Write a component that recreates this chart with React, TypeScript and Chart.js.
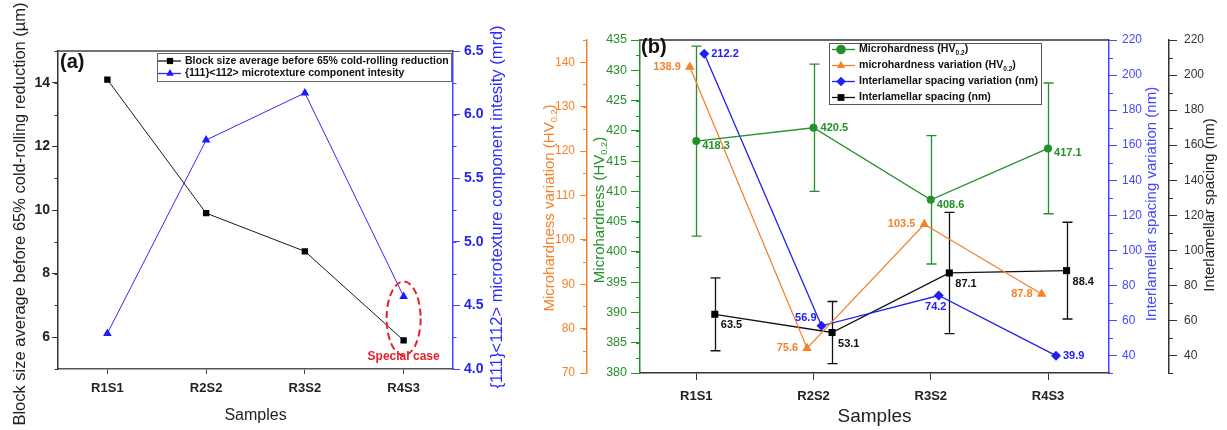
import React, { useEffect, useRef } from 'react';
import { Chart, registerables } from 'chart.js';

Chart.register(...registerables);

const FONT = 'Arial, "Liberation Sans", Helvetica, sans-serif';

// ---------- Panel (a) data ----------
const CATEGORIES = ['R1S1', 'R2S2', 'R3S2', 'R4S3'];
const BLOCK_SIZE = [14.1, 9.9, 8.7, 5.9];
const TEXTURE_INTENSITY = [4.28, 5.8, 6.17, 4.57];
const BLOCK_TICKS = [6, 8, 10, 12, 14];
const TEXTURE_TICKS = [4.0, 4.5, 5.0, 5.5, 6.0, 6.5];

// ---------- Panel (b) data ----------
const MICROHARDNESS = [418.3, 420.5, 408.6, 417.1];
const MICROHARDNESS_ERR = [15.7, 10.5, 10.6, 10.8];
const MICROHARDNESS_VAR = [138.9, 75.6, 103.5, 87.8];
const SPACING_VAR = [212.2, 56.9, 74.2, 39.9];
const SPACING = [63.5, 53.1, 87.1, 88.4];
const SPACING_ERR = [20.8, 17.7, 34.6, 27.6];
const HARDNESS_TICKS = [380, 385, 390, 395, 400, 405, 410, 415, 420, 425, 430, 435];
const HARDNESS_VAR_TICKS = [70, 80, 90, 100, 110, 120, 130, 140];
const SPACING_TICKS = [40, 60, 80, 100, 120, 140, 160, 180, 200, 220];

// label placement codes (style only)
const GREEN_LABEL_POS = ['rb', 'r', 'rb', 'rb'];
const ORANGE_LABEL_POS = ['l', 'l', 'l', 'l'];
const BLUE_LABEL_POS = ['r', 'la', 'b', 'r'];
const BLACK_LABEL_POS = ['rbb', 'rbb', 'rbb', 'rbb'];

const LABEL_OFFSETS: Record<string, { dx: number; dy: number; align: CanvasTextAlign }> = {
  r: { dx: 7, dy: 0, align: 'left' },
  rb: { dx: 6, dy: 5, align: 'left' },
  rbb: { dx: 6, dy: 11, align: 'left' },
  l: { dx: -9, dy: 0, align: 'right' },
  la: { dx: -5, dy: -8, align: 'right' },
  b: { dx: -3, dy: 11, align: 'center' },
};

const GREEN = '#24902a';
const ORANGE = '#f5822a';
const BLUE = '#2020f0';
const BLUE_AXIS = '#4646ff';
const DARK = '#222222';
const RED = '#e3222a';

// ---------- helpers ----------
function parseRich(text: string) {
  const parts: { t: string; sub: boolean }[] = [];
  const re = /_\{([^}]*)\}/g;
  let last = 0;
  let m: RegExpExecArray | null;
  while ((m = re.exec(text))) {
    if (m.index > last) parts.push({ t: text.slice(last, m.index), sub: false });
    parts.push({ t: m[1], sub: true });
    last = re.lastIndex;
  }
  if (last < text.length) parts.push({ t: text.slice(last), sub: false });
  return parts;
}

function drawRich(
  ctx: CanvasRenderingContext2D,
  text: string,
  x: number,
  y: number,
  size: number,
  weight: string,
  color: string,
  align: 'left' | 'center' | 'right'
) {
  const parts = parseRich(text);
  const fontFor = (sub: boolean) => `${weight} ${sub ? size * 0.62 : size}px ${FONT}`;
  let total = 0;
  for (const p of parts) {
    ctx.font = fontFor(p.sub);
    total += ctx.measureText(p.t).width;
  }
  let cx = align === 'center' ? x - total / 2 : align === 'right' ? x - total : x;
  ctx.fillStyle = color;
  ctx.textBaseline = 'middle';
  ctx.textAlign = 'left';
  for (const p of parts) {
    ctx.font = fontFor(p.sub);
    ctx.fillText(p.t, cx, p.sub ? y + size * 0.32 : y);
    cx += ctx.measureText(p.t).width;
  }
}

function drawMarker(ctx: CanvasRenderingContext2D, style: string, x: number, y: number, r: number, color: string) {
  ctx.fillStyle = color;
  ctx.beginPath();
  if (style === 'circle') {
    ctx.arc(x, y, r, 0, Math.PI * 2);
  } else if (style === 'triangle') {
    ctx.moveTo(x, y - r);
    ctx.lineTo(x + r * 0.866, y + r * 0.5);
    ctx.lineTo(x - r * 0.866, y + r * 0.5);
    ctx.closePath();
  } else if (style === 'rectRot') {
    ctx.moveTo(x, y - r);
    ctx.lineTo(x + r, y);
    ctx.lineTo(x, y + r);
    ctx.lineTo(x - r, y);
    ctx.closePath();
  } else {
    const s = r * Math.SQRT1_2;
    ctx.rect(x - s, y - s, 2 * s, 2 * s);
  }
  ctx.fill();
}

// ---------- plugins ----------
const sideTitles = {
  id: 'sideTitles',
  afterDraw(chart: any, _a: any, opts: any) {
    const { ctx } = chart;
    for (const t of opts.items || []) {
      ctx.save();
      ctx.translate(t.x, t.y);
      ctx.rotate(-Math.PI / 2);
      drawRich(ctx, t.text, 0, 0, t.size, t.weight || 'normal', t.color, 'center');
      ctx.restore();
    }
  },
};

const minorTicks = {
  id: 'minorTicks',
  afterDraw(chart: any, _a: any, opts: any) {
    const { ctx } = chart;
    for (const m of opts.items || []) {
      const s = chart.scales[m.axis];
      if (!s) continue;
      const left = s.position === 'left';
      const edge = left ? s.right : s.left;
      const dir = left ? -1 : 1;
      ctx.save();
      ctx.strokeStyle = m.color;
      ctx.lineWidth = 1;
      ctx.beginPath();
      const n = Math.round((s.max - s.min) / m.step);
      for (let i = 0; i <= n; i++) {
        const y = Math.round(s.getPixelForValue(s.min + i * m.step)) + 0.5;
        ctx.moveTo(edge, y);
        ctx.lineTo(edge + dir * m.len, y);
      }
      ctx.stroke();
      ctx.restore();
    }
  },
};

const errorBars = {
  id: 'errorBars',
  beforeDatasetsDraw(chart: any, _a: any, opts: any) {
    const { ctx } = chart;
    chart.data.datasets.forEach((ds: any, i: number) => {
      const errs: number[] | undefined = ds.errorBars;
      if (!errs) return;
      const meta = chart.getDatasetMeta(i);
      const ys = chart.scales[ds.yAxisID];
      ctx.save();
      ctx.strokeStyle = ds.borderColor;
      ctx.lineWidth = opts.width || 1.3;
      meta.data.forEach((pt: any, j: number) => {
        const raw = ds.data[j];
        const v = typeof raw === 'number' ? raw : raw.y;
        const yt = ys.getPixelForValue(v + errs[j]);
        const yb = ys.getPixelForValue(v - errs[j]);
        const x = Math.round(pt.x) + 0.5;
        const c = opts.cap || 5;
        ctx.beginPath();
        ctx.moveTo(x, yt);
        ctx.lineTo(x, yb);
        ctx.moveTo(x - c, yt);
        ctx.lineTo(x + c, yt);
        ctx.moveTo(x - c, yb);
        ctx.lineTo(x + c, yb);
        ctx.stroke();
      });
      ctx.restore();
    });
  },
};

const valueLabels = {
  id: 'valueLabels',
  afterDatasetsDraw(chart: any, _a: any, opts: any) {
    const { ctx } = chart;
    chart.data.datasets.forEach((ds: any, i: number) => {
      const vl = ds.valueLabels;
      if (!vl) return;
      const meta = chart.getDatasetMeta(i);
      meta.data.forEach((pt: any, j: number) => {
        const raw = ds.data[j];
        const v = typeof raw === 'number' ? raw : raw.y;
        const off = LABEL_OFFSETS[vl.pos[j]];
        ctx.save();
        ctx.font = `bold ${opts.size || 11}px ${FONT}`;
        ctx.fillStyle = vl.color;
        ctx.textAlign = off.align;
        ctx.textBaseline = 'middle';
        ctx.fillText(v.toFixed(1), pt.x + off.dx, pt.y + off.dy);
        ctx.restore();
      });
    });
  },
};

const boxLegend = {
  id: 'boxLegend',
  afterDraw(chart: any, _a: any, o: any) {
    const { ctx } = chart;
    ctx.save();
    ctx.fillStyle = '#ffffff';
    ctx.fillRect(o.x, o.y, o.w, o.h);
    ctx.strokeStyle = o.border;
    ctx.lineWidth = 1;
    ctx.strokeRect(o.x + 0.5, o.y + 0.5, o.w, o.h);
    chart.data.datasets.forEach((ds: any, i: number) => {
      const y = o.y + o.firstRow + i * o.rowH;
      ctx.strokeStyle = ds.borderColor;
      ctx.lineWidth = 1.3;
      ctx.beginPath();
      ctx.moveTo(o.x + o.lineStart, y);
      ctx.lineTo(o.x + o.lineEnd, y);
      ctx.stroke();
      drawMarker(ctx, ds.pointStyle, o.x + o.marker, y, o.markerR, ds.backgroundColor);
      drawRich(ctx, ds.richLabel || ds.label, o.x + o.textX, y, o.size, 'bold', '#111', 'left');
    });
    ctx.restore();
  },
};

const panelDecor = {
  id: 'panelDecor',
  afterDraw(chart: any, _a: any, o: any) {
    const { ctx, chartArea } = chart;
    ctx.save();
    ctx.strokeStyle = o.frameColor;
    ctx.lineWidth = 1.5;
    ctx.beginPath();
    ctx.moveTo(chartArea.left, chartArea.top);
    ctx.lineTo(chartArea.right, chartArea.top);
    ctx.stroke();
    ctx.font = `bold 20px ${FONT}`;
    ctx.fillStyle = '#111';
    ctx.textAlign = 'left';
    ctx.textBaseline = 'middle';
    ctx.fillText(o.tag, o.tagX, o.tagY);
    ctx.restore();
  },
};

const specialCase = {
  id: 'specialCase',
  afterDatasetsDraw(chart: any, _a: any, o: any) {
    if (!o || o.index === undefined) return;
    const { ctx } = chart;
    const pA = chart.getDatasetMeta(0).data[o.index];
    const pB = chart.getDatasetMeta(1).data[o.index];
    const top = Math.min(pA.y, pB.y) - 15;
    const bottom = Math.max(pA.y, pB.y) + 15;
    ctx.save();
    ctx.strokeStyle = RED;
    ctx.lineWidth = 2;
    ctx.setLineDash([7, 4]);
    ctx.beginPath();
    ctx.ellipse(pA.x, (top + bottom) / 2, 17, (bottom - top) / 2, 0, 0, Math.PI * 2);
    ctx.stroke();
    ctx.setLineDash([]);
    ctx.font = `bold 12px ${FONT}`;
    ctx.fillStyle = RED;
    ctx.textAlign = 'center';
    ctx.textBaseline = 'middle';
    ctx.fillText(o.text, pA.x, Math.max(pA.y, pB.y) + 16);
    ctx.restore();
  },
};

// ---------- configs ----------
function leftConfig(): any {
  return {
    type: 'line',
    data: {
      labels: CATEGORIES,
      datasets: [
        {
          label: 'Block size average before 65% cold-rolling reduction',
          data: BLOCK_SIZE,
          yAxisID: 'y',
          borderColor: '#1a1a1a',
          backgroundColor: '#000000',
          borderWidth: 1,
          pointStyle: 'rect',
          pointRadius: 4.5,
          pointBorderWidth: 0,
          tension: 0,
        },
        {
          label: '{111}<112> microtexture component intesity',
          data: TEXTURE_INTENSITY,
          yAxisID: 'y1',
          borderColor: '#2b2bff',
          backgroundColor: '#1a1aff',
          borderWidth: 1,
          pointStyle: 'triangle',
          pointRadius: 5,
          pointBorderWidth: 0,
          tension: 0,
        },
      ],
    },
    options: {
      animation: false,
      responsive: false,
      devicePixelRatio: 1,
      layout: { padding: { top: 51, left: 0, right: 0, bottom: 0 } },
      plugins: {
        legend: { display: false },
        tooltip: { enabled: false },
        sideTitles: {
          items: [
            { text: 'Block size average before 65% cold-rolling reduction (µm)', x: 20, y: 214, size: 16.5, color: DARK },
            { text: '{111}<112> microtexture component intesity (mrd)', x: 497, y: 207, size: 16.5, color: '#2b2bff' },
          ],
        },
        minorTicks: {
          items: [
            { axis: 'y', step: 1, len: 3.5, color: '#333' },
            { axis: 'y1', step: 0.25, len: 3.5, color: BLUE_AXIS },
          ],
        },
        boxLegend: {
          x: 157, y: 53, w: 294, h: 28, firstRow: 8, rowH: 12.5,
          lineStart: 1, lineEnd: 24, marker: 13, markerR: 4.4, textX: 28, size: 10.5, border: '#666',
        },
        panelDecor: { tag: '(a)', tagX: 60, tagY: 62, frameColor: '#444' },
        specialCase: { index: 3, text: 'Special case' },
      },
      scales: {
        x: {
          type: 'category',
          offset: true,
          grid: { display: true, drawOnChartArea: false, drawTicks: true, tickLength: 5, color: '#444' },
          border: { color: '#555', width: 1.5 },
          ticks: { font: { size: 13, weight: 'bold', family: FONT }, color: DARK, padding: 7 },
          title: { display: true, text: 'Samples', font: { size: 16, family: FONT }, color: DARK, padding: { top: 0, bottom: 5 } },
          afterFit(s: any) { s.height = 61; },
        },
        y: {
          type: 'linear',
          position: 'left',
          min: 5,
          max: 15,
          afterBuildTicks(s: any) { s.ticks = BLOCK_TICKS.map((v) => ({ value: v })); },
          ticks: { font: { size: 14, weight: 'bold', family: FONT }, color: DARK, padding: 2 },
          grid: { display: true, drawOnChartArea: false, tickLength: 6, color: '#333' },
          border: { color: '#333', width: 1.5 },
          afterFit(s: any) { s.width = 58; },
        },
        y1: {
          type: 'linear',
          position: 'right',
          min: 4,
          max: 6.5,
          afterBuildTicks(s: any) { s.ticks = TEXTURE_TICKS.map((v) => ({ value: v })); },
          ticks: {
            font: { size: 14, weight: 'bold', family: FONT },
            color: '#2525e6',
            padding: 4,
            callback: (v: any) => Number(v).toFixed(1),
          },
          grid: { display: true, drawOnChartArea: false, tickLength: 7, color: BLUE_AXIS },
          border: { color: BLUE_AXIS, width: 1.5 },
          afterFit(s: any) { s.width = 67; },
        },
      },
    },
    plugins: [sideTitles, minorTicks, boxLegend, panelDecor, specialCase],
  };
}

function pts(values: number[], shift: number) {
  return values.map((v, i) => ({ x: i + shift, y: v }));
}

function yScale(pos: string, weight: number, min: number, max: number, ticks: number[], color: string, tickLen: number, pad: number, width: number, size: number) {
  return {
    type: 'linear',
    position: pos,
    weight,
    min,
    max,
    afterBuildTicks(s: any) { s.ticks = ticks.map((v) => ({ value: v })); },
    ticks: { font: { size, family: FONT }, color, padding: pad },
    grid: { display: true, drawOnChartArea: false, tickLength: tickLen, color },
    border: { color, width: 1.5 },
    afterFit(s: any) { s.width = width; },
  };
}

function rightConfig(): any {
  return {
    type: 'line',
    data: {
      datasets: [
        {
          label: 'Microhardness (HV0.2)',
          richLabel: 'Microhardness (HV_{0.2})',
          data: pts(MICROHARDNESS, 0),
          yAxisID: 'yH',
          borderColor: GREEN,
          backgroundColor: GREEN,
          borderWidth: 1.3,
          pointStyle: 'circle',
          pointRadius: 4,
          pointBorderWidth: 0,
          errorBars: MICROHARDNESS_ERR,
          valueLabels: { pos: GREEN_LABEL_POS, color: GREEN },
        },
        {
          label: 'microhardness variation (HV0.2)',
          richLabel: 'microhardness variation (HV_{0.2})',
          data: pts(MICROHARDNESS_VAR, -0.055),
          yAxisID: 'yHV',
          borderColor: ORANGE,
          backgroundColor: ORANGE,
          borderWidth: 1.3,
          pointStyle: 'triangle',
          pointRadius: 5.5,
          pointBorderWidth: 0,
          valueLabels: { pos: ORANGE_LABEL_POS, color: ORANGE },
        },
        {
          label: 'Interlamellar spacing variation (nm)',
          data: pts(SPACING_VAR, 0.068),
          yAxisID: 'ySV',
          borderColor: BLUE,
          backgroundColor: BLUE,
          borderWidth: 1.3,
          pointStyle: 'rectRot',
          pointRadius: 5,
          pointBorderWidth: 0,
          valueLabels: { pos: BLUE_LABEL_POS, color: BLUE },
        },
        {
          label: 'Interlamellar spacing (nm)',
          data: pts(SPACING, 0.158),
          yAxisID: 'yS',
          borderColor: '#111111',
          backgroundColor: '#000000',
          borderWidth: 1.3,
          pointStyle: 'rect',
          pointRadius: 5,
          pointBorderWidth: 0,
          errorBars: SPACING_ERR,
          valueLabels: { pos: BLACK_LABEL_POS, color: '#111111' },
        },
      ],
    },
    options: {
      animation: false,
      responsive: false,
      devicePixelRatio: 1,
      layout: { padding: { top: 40, left: 0, right: 0, bottom: 0 } },
      plugins: {
        legend: { display: false },
        tooltip: { enabled: false },
        errorBars: { width: 1.3, cap: 5 },
        valueLabels: { size: 11 },
        sideTitles: {
          items: [
            { text: 'Microhardness variation (HV_{0.2})', x: 30, y: 208, size: 15, color: ORANGE },
            { text: 'Microhardness (HV_{0.2})', x: 80, y: 210, size: 15, color: GREEN },
            { text: 'Interlamellar spacing variation (nm)', x: 632, y: 204, size: 15, color: BLUE_AXIS },
            { text: 'Interlamellar spacing (nm)', x: 690, y: 205, size: 15, color: DARK },
          ],
        },
        minorTicks: {
          items: [
            { axis: 'yHV', step: 5, len: 4, color: ORANGE },
            { axis: 'yH', step: 2.5, len: 4, color: GREEN },
            { axis: 'ySV', step: 10, len: 4, color: BLUE_AXIS },
            { axis: 'yS', step: 10, len: 4, color: '#333' },
          ],
        },
        boxLegend: {
          x: 309, y: 43, w: 212, h: 61, firstRow: 6.5, rowH: 16,
          lineStart: 3, lineEnd: 26, marker: 12, markerR: 4.8, textX: 30, size: 10.6, border: '#555',
        },
        panelDecor: { tag: '(b)', tagX: 121, tagY: 47, frameColor: '#333' },
      },
      scales: {
        x: {
          type: 'linear',
          min: -0.48,
          max: 3.52,
          afterBuildTicks(s: any) { s.ticks = CATEGORIES.map((_, i) => ({ value: i })); },
          ticks: {
            font: { size: 13, weight: 'bold', family: FONT },
            color: DARK,
            padding: 9,
            callback: (v: any) => CATEGORIES[Math.round(Number(v))] ?? '',
          },
          grid: { display: true, drawOnChartArea: false, tickLength: 7, color: '#333' },
          border: { color: '#333', width: 1.5 },
          title: { display: true, text: 'Samples', font: { size: 19, family: FONT }, color: DARK, padding: { top: 0, bottom: 2 } },
          afterFit(s: any) { s.height = 57; },
        },
        yHV: yScale('left', 2, 70, 145, HARDNESS_VAR_TICKS, ORANGE, 7, 5, 67, 12),
        yH: yScale('left', 1, 380, 435, HARDNESS_TICKS, GREEN, 9, 4, 53, 12.5),
        ySV: yScale('right', 1, 30, 220, SPACING_TICKS, BLUE_AXIS, 8, 5, 60, 12),
        yS: yScale('right', 2, 30, 220, SPACING_TICKS, '#333333', 8, 7, 58, 12),
      },
    },
    plugins: [errorBars, valueLabels, sideTitles, minorTicks, boxLegend, panelDecor],
  };
}

export default function App() {
  const leftRef = useRef<HTMLCanvasElement>(null);
  const rightRef = useRef<HTMLCanvasElement>(null);
  useEffect(() => {
    const a = new Chart(leftRef.current as HTMLCanvasElement, leftConfig());
    const b = new Chart(rightRef.current as HTMLCanvasElement, rightConfig());
    return () => {
      a.destroy();
      b.destroy();
    };
  }, []);
  return (
    <div style={{ position: 'absolute', left: 0, top: 0, width: 1227, height: 430, background: '#fff', overflow: 'hidden' }}>
      <canvas ref={leftRef} width={520} height={430} style={{ position: 'absolute', left: 0, top: 0, width: 520, height: 430 }} />
      <canvas ref={rightRef} width={707} height={430} style={{ position: 'absolute', left: 520, top: 0, width: 707, height: 430 }} />
    </div>
  );
}
